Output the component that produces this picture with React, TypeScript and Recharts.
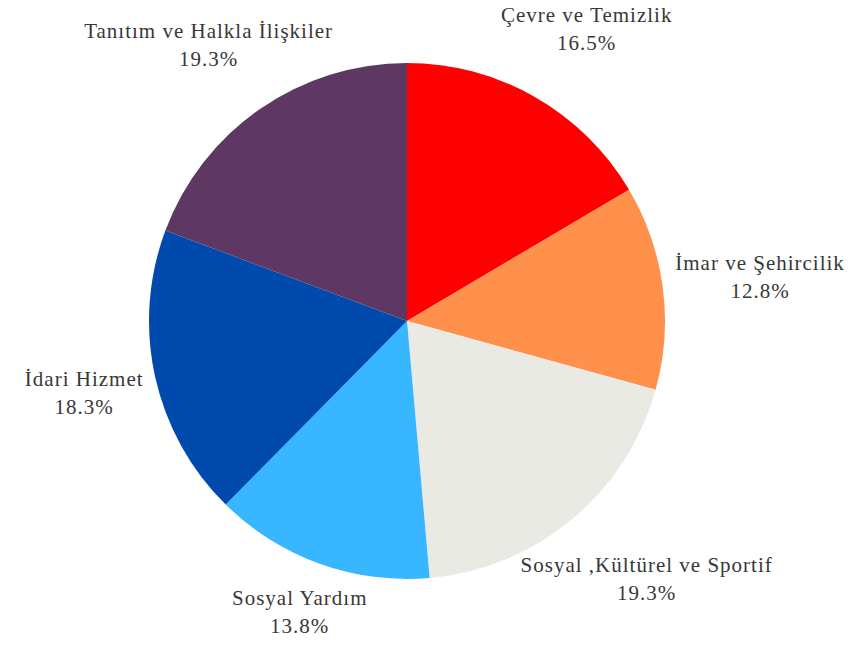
import { PieChart, Pie, Cell } from 'recharts';

const categories = [
  'Çevre ve Temizlik',
  'İmar ve Şehircilik',
  'Sosyal ,Kültürel ve Sportif',
  'Sosyal Yardım',
  'İdari Hizmet',
  'Tanıtım ve Halkla İlişkiler',
];
const shares = [16.5, 12.8, 19.3, 13.8, 18.3, 19.3];
const colors = ['#ff0000', '#ff914d', '#eaeae5', '#38b6ff', '#004aad', '#5e3762'];

const data = categories.map((name, i) => ({ name, value: shares[i] }));

const W = 853;
const H = 645;
const RADIAN = Math.PI / 180;

function renderLabel(props: any) {
  const { cx, cy, midAngle, payload } = props;
  const cos = Math.cos(-midAngle * RADIAN);
  const sin = Math.sin(-midAngle * RADIAN);
  // rough text half-width so long labels sit a bit further out sideways
  const hw = payload.name.length * 5.2;
  const x = cx + 8 + 320 * cos + 0.3 * hw * cos;
  const y = Math.min(cy + 336 * sin, H - 33);
  return (
    <text
      x={x}
      y={y}
      textAnchor="middle"
      fill="#383838"
      fontFamily="'Liberation Serif', 'DejaVu Serif', serif"
      fontSize={21}
      letterSpacing={1}
    >
      <tspan x={x} y={y - 14} dominantBaseline="central">{payload.name}</tspan>
      <tspan x={x} y={y + 14} dominantBaseline="central">{`${payload.value.toFixed(1)}%`}</tspan>
    </text>
  );
}

export default function App() {
  return (
    <div style={{ position: 'absolute', left: 0, top: 0, background: '#ffffff' }}>
      <PieChart width={W} height={H}>
        <Pie
          data={data}
          dataKey="value"
          nameKey="name"
          cx={402}
          cy={316}
          outerRadius={258}
          startAngle={90}
          endAngle={-270}
          stroke="none"
          label={renderLabel}
          labelLine={false}
          isAnimationActive={false}
        >
          {data.map((d, i) => (
            <Cell key={d.name} fill={colors[i]} />
          ))}
        </Pie>
      </PieChart>
    </div>
  );
}
